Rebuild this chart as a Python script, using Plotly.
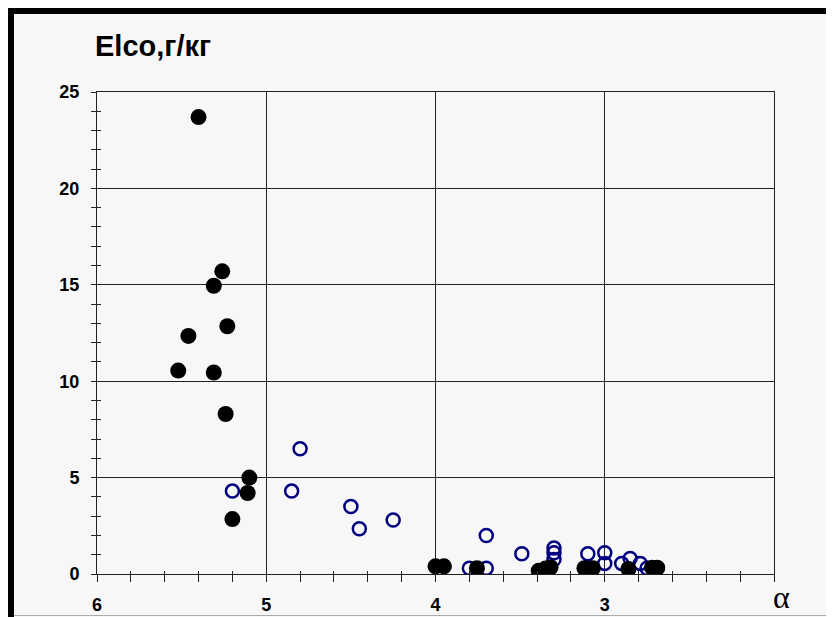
import plotly.graph_objects as go

# ---- data ----
filled_alpha = [5.40, 5.26, 5.31, 5.46, 5.23, 5.52, 5.31, 5.24, 5.10, 5.11, 5.20,
                4.00, 3.95, 3.755, 3.39, 3.35, 3.32, 3.12, 3.07, 2.86, 2.72, 2.69]
filled_elco = [23.7, 15.7, 14.95, 12.35, 12.85, 10.55, 10.45, 8.3, 5.0, 4.2, 2.85,
               0.4, 0.4, 0.3, 0.17, 0.28, 0.35, 0.3, 0.3, 0.26, 0.33, 0.33]

open_alpha = [5.20, 4.85, 4.80, 4.50, 4.45, 4.25, 3.80, 3.70, 3.70, 3.49,
              3.30, 3.30, 3.30, 3.10, 3.10, 3.00, 3.00, 2.90, 2.85, 2.79, 2.75, 2.69]
open_elco = [4.3, 4.3, 6.5, 3.5, 2.35, 2.8, 0.3, 0.3, 2.0, 1.05,
             1.35, 1.1, 0.75, 1.05, 0.35, 1.1, 0.55, 0.55, 0.8, 0.55, 0.3, 0.3]

x_ticks = [6, 5, 4, 3]
x_ticktext = ["6", "5", "4", "3"]
y_ticks = [0, 5, 10, 15, 20, 25]
y_ticktext = ["0", "5", "10", "15", "20", "25"]

title_text = "Elco,г/кг"
x_label = "α"

# ---- layout geometry (page pixels; the page body adds an 8 px offset) ----
OFF = 8
W, H = 834 - OFF, 617 - OFF
L, R, T, B = 97, 774, 92, 574          # plot area in page pixels
PW, PH = R - L, B - T


def px(xp):
    return (xp - L) / PW


def py(yp):
    return (B - yp) / PH


BG = "#f7f7f7"
LINE = "#222"
tickfont = dict(family="Liberation Sans, Arial, sans-serif", size=18, color="black", weight="bold")

fig = go.Figure()

fig.add_trace(go.Scatter(
    x=open_alpha, y=open_elco, mode="markers",
    marker=dict(symbol="circle-open", size=13, color="#000080", line=dict(width=2.5, color="#000080")),
    showlegend=False, hoverinfo="x+y"))

# filled markers on the overlay axes (drawn on top; the overlay axes supply the inner tick halves)
fig.add_trace(go.Scatter(
    x=filled_alpha, y=filled_elco, mode="markers", xaxis="x2", yaxis="y2",
    marker=dict(symbol="circle", size=16, color="black", line=dict(width=0)),
    showlegend=False, hoverinfo="x+y"))

fig.update_layout(
    width=W, height=H,
    margin=dict(l=L - OFF, r=W - (R - OFF), t=T - OFF, b=H - (B - OFF), pad=0, autoexpand=False),
    paper_bgcolor=BG, plot_bgcolor=BG,
    xaxis=dict(range=[6, 2], tickvals=x_ticks, ticktext=x_ticktext, automargin=False,
               showgrid=True, gridcolor=LINE, gridwidth=1,
               showline=True, linecolor=LINE, linewidth=1, mirror=True,
               zeroline=False, ticks="outside", ticklen=7, tickcolor=LINE,
               minor=dict(dtick=0.2, tick0=2, ticks="outside", ticklen=7, tickcolor=LINE, showgrid=False),
               tickfont=tickfont, ticklabelstandoff=7),
    yaxis=dict(range=[0, 25], tickvals=y_ticks, ticktext=y_ticktext, automargin=False,
               showgrid=True, gridcolor=LINE, gridwidth=1,
               showline=True, linecolor=LINE, linewidth=1, mirror=True,
               zeroline=False, ticks="outside", ticklen=5, tickcolor=LINE,
               minor=dict(dtick=1, tick0=0, ticks="outside", ticklen=5, tickcolor=LINE, showgrid=False),
               tickfont=tickfont, ticklabelstandoff=8),
    xaxis2=dict(range=[6, 2], overlaying="x", anchor="y2", side="bottom", automargin=False,
                dtick=0.2, tick0=2, ticks="inside", ticklen=3, tickcolor=LINE,
                showticklabels=False, showgrid=False, zeroline=False, showline=False),
    yaxis2=dict(range=[0, 25], overlaying="y", anchor="x2", side="left", automargin=False,
                dtick=1, tick0=0, ticks="inside", ticklen=4, tickcolor=LINE,
                showticklabels=False, showgrid=False, zeroline=False, showline=False),
    annotations=[
        dict(text=title_text, xref="paper", yref="paper", x=px(93), y=py(46),
             xanchor="left", yanchor="middle", showarrow=False,
             font=dict(family="Liberation Sans, Arial, sans-serif", size=29, color="black", weight="bold")),
        dict(text=x_label, xref="paper", yref="paper", x=px(781), y=py(616),
             xanchor="center", yanchor="bottom", showarrow=False, borderpad=0,
             font=dict(family="Liberation Serif, Times New Roman, serif", size=32, color="black")),
    ],
    shapes=[
        dict(type="rect", xref="paper", yref="paper", x0=px(OFF), x1=px(834), y0=py(OFF), y1=py(14),
             fillcolor="black", line=dict(width=0), layer="above"),
        dict(type="rect", xref="paper", yref="paper", x0=px(OFF), x1=px(14), y0=py(OFF), y1=py(617),
             fillcolor="black", line=dict(width=0), layer="above"),
        dict(type="line", xref="paper", yref="paper", x0=px(14), x1=px(834), y0=py(615.5), y1=py(615.5),
             line=dict(color="#aaa", width=1), layer="above"),
    ],
)

fig.write_html("out.html")
